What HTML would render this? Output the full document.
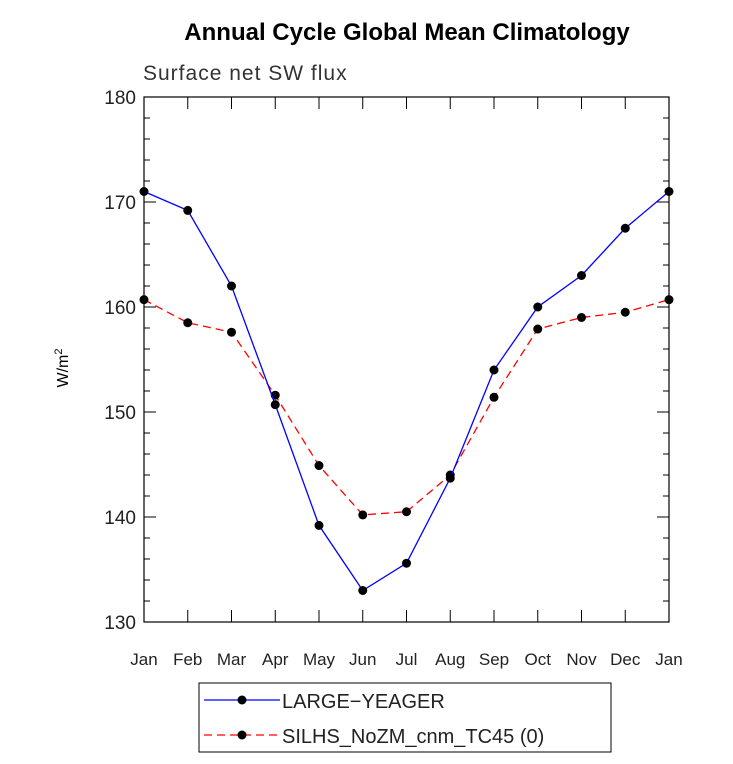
<!DOCTYPE html>
<html><head><meta charset="utf-8"><style>
body{margin:0;background:#fff;width:733px;height:759px;overflow:hidden}
text{font-family:"Liberation Sans",sans-serif}
</style></head><body>
<svg id="chart" width="733" height="759" xmlns="http://www.w3.org/2000/svg">
<text x="407" y="40" text-anchor="middle" font-size="24" font-weight="bold">Annual Cycle Global Mean Climatology</text>
<text x="143" y="80" font-size="21" fill="#333" letter-spacing="1">Surface net SW flux</text>
<text transform="translate(68,368) rotate(-90)" text-anchor="middle" font-size="16">W/m<tspan dy="-6" font-size="11">2</tspan></text>
<rect x="144" y="97" width="525" height="525" fill="none" stroke="#000" stroke-width="1.2"/>
<g id="axes"></g><g id="series"></g>
<g>
<rect x="199" y="683" width="412" height="69" fill="none" stroke="#000"/>
<line x1="204" y1="700" x2="280" y2="700" stroke="#0000ff" stroke-width="1.3"/>
<circle cx="242" cy="700" r="4.5"/>
<text x="282" y="708" font-size="20" fill="#222">LARGE−YEAGER</text>
<line x1="204" y1="735" x2="280" y2="735" stroke="#ff0000" stroke-width="1.3" stroke-dasharray="8,5"/>
<circle cx="242" cy="735" r="4.5"/>
<text x="282" y="743" font-size="20" fill="#222">SILHS_NoZM_cnm_TC45 (0)</text>
</g>
</svg>
<script>
const months=["Jan","Feb","Mar","Apr","May","Jun","Jul","Aug","Sep","Oct","Nov","Dec","Jan"];
const largeYeager=[171.0,169.2,162.0,150.7,139.2,133.0,135.6,143.7,154.0,160.0,163.0,167.5,171.0];
const silhs=[160.7,158.5,157.6,151.6,144.9,140.2,140.5,144.0,151.4,157.9,159.0,159.5,160.7];
const yTicks=[130,140,150,160,170,180];
const NS="http://www.w3.org/2000/svg";
const x0=144,x1=669,y0=622,y1=97,ymin=130,ymax=180;
const xs=i=>x0+i*(x1-x0)/(months.length-1);
const ys=v=>y0-(v-ymin)*(y0-y1)/(ymax-ymin);
function mk(t,a,p){const e=document.createElementNS(NS,t);for(const k in a)e.setAttribute(k,a[k]);p.appendChild(e);return e;}
const ax=document.getElementById('axes');
for(let v=ymin;v<=ymax;v+=2){
 const major=yTicks.includes(v);const L=major?12:6;
 mk('line',{x1:x0,x2:x0+L,y1:ys(v),y2:ys(v),stroke:'#000'},ax);
 mk('line',{x1:x1,x2:x1-L,y1:ys(v),y2:ys(v),stroke:'#000'},ax);
}
yTicks.forEach(v=>{
 const t=mk('text',{x:x0-8,y:ys(v)+7,'text-anchor':'end','font-size':'19',fill:'#222'},ax);
 
 
 t.textContent=v;
});
months.forEach((m,i)=>{
 mk('line',{x1:xs(i),x2:xs(i),y1:y0,y2:y0-12,stroke:'#000'},ax);
 mk('line',{x1:xs(i),x2:xs(i),y1:y1,y2:y1+12,stroke:'#000'},ax);
 const t=mk('text',{x:xs(i),y:y0+43,'text-anchor':'middle','font-size':'17',fill:'#222'},ax);
 
 
 t.textContent=m;
});
const sg=document.getElementById('series');
function draw(vals,color,dash,name){
 const pts=vals.map((v,i)=>xs(i)+','+ys(v)).join(' ');
 const pl=mk('polyline',{points:pts,fill:'none',stroke:color,'stroke-width':1.3},sg);
 if(dash)pl.setAttribute('stroke-dasharray',dash);
 
 
 vals.forEach((v,i)=>{
  const c=mk('circle',{cx:xs(i),cy:ys(v),r:4.5,fill:'#000'},sg);
  
  
 });
}
draw(silhs,'#ff0000','8,5','silhs');
draw(largeYeager,'#0000ff',null,'large-yeager');
</script>
</body></html>
